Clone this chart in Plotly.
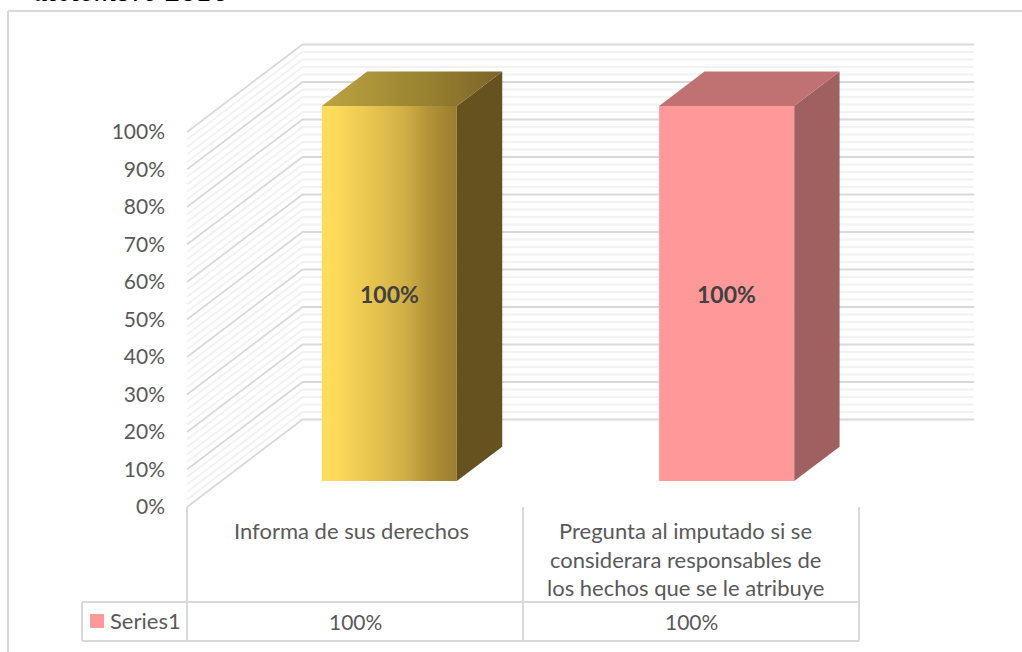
import plotly.graph_objects as go

# Values
categories = ["Informa de sus derechos",
              "Pregunta al imputado si se|considerara responsables de|los hechos que se le atribuye"]
series_name = "Series1"
values = [100, 100]
y_ticks = [0, 10, 20, 30, 40, 50, 60, 70, 80, 90, 100]
y_minor = [v for v in range(0, 101, 2) if v % 10 != 0]

W, H = 1022, 652
X0_PX, X_SCALE = 187, 336     # pixel of category 0 and pixels per category
Y0_PX, Y_SCALE = 507, 3.75    # pixel of 0% and pixels per percent
DEPTH_X = 115.5 / X_SCALE     # how far the back wall sits from the front plane
DEPTH_Y = 87.5 / Y_SCALE
WALL_RIGHT = (974 - X0_PX) / X_SCALE - DEPTH_X

BAR_CENTERS = [0.5, 1.504]
BAR_HALF = 0.201
BAR_D0, BAR_D1 = 0.297, 0.69
LABEL_CENTERS_PX = [351.5, 685]

GRID = "#d9d9d9"
GRID_MINOR = "#f2f2f2"
TEXT = "#595959"
FONT = "Lato, sans-serif"


def ux(px):
    return (px - X0_PX) / X_SCALE


def uy(px):
    return (Y0_PX - px) / Y_SCALE


def project(u, v, d):
    # oblique projection: d=0 is the front plane, d=1 the back wall
    return u + d * DEPTH_X, v + d * DEPTH_Y


def grid_xy(levels):
    xs, ys = [], []
    for v in levels:
        a = project(0, v, 0)
        b = project(0, v, 1)
        c = project(WALL_RIGHT, v, 1)
        xs += [a[0], b[0], c[0], None]
        ys += [a[1], b[1], c[1], None]
    return xs, ys


def face(points, **kw):
    return go.Scatter(x=[p[0] for p in points], y=[p[1] for p in points],
                      mode="lines", fill="toself", line=dict(width=0),
                      hoverinfo="skip", showlegend=False, **kw)


fig = go.Figure()

# walls
xs, ys = grid_xy(y_minor)
fig.add_trace(go.Scatter(x=xs, y=ys, mode="lines", line=dict(color=GRID_MINOR, width=2),
                         hoverinfo="skip", showlegend=False))
xs, ys = grid_xy(y_ticks)
fig.add_trace(go.Scatter(x=xs, y=ys, mode="lines", line=dict(color=GRID, width=1.8),
                         hoverinfo="skip", showlegend=False))

# bars
bar_styles = [
    dict(front=[[0, "#ffdd5c"], [0.12, "#fbd95a"], [0.35, "#e9c650"], [0.62, "#d0ae45"], [0.8, "#b09237"], [1, "#9a7d30"]],
         top=[[0, "#bca443"], [0.6, "#97802f"], [1, "#7a6329"]],
         side="#65521e"),
    dict(front=[[0, "#ff9999"], [1, "#ff9999"]],
         top=[[0, "#c07272"], [1, "#c07272"]],
         side="#a06060"),
]
for center, val, st in zip(BAR_CENTERS, values, bar_styles):
    l, r = center - BAR_HALF, center + BAR_HALF
    fig.add_trace(face([project(r, 0, BAR_D0), project(r, 0, BAR_D1),
                        project(r, val, BAR_D1), project(r, val, BAR_D0),
                        project(r, 0, BAR_D0)], fillcolor=st["side"]))
    fig.add_trace(face([project(l, val, BAR_D0), project(l, val, BAR_D1),
                        project(r, val, BAR_D1), project(r, val, BAR_D0),
                        project(l, val, BAR_D0)],
                       fillgradient=dict(type="horizontal", colorscale=st["top"])))
    fig.add_trace(face([project(l, 0, BAR_D0), project(r, 0, BAR_D0),
                        project(r, val, BAR_D0), project(l, val, BAR_D0),
                        project(l, 0, BAR_D0)],
                       fillgradient=dict(type="horizontal", colorscale=st["front"])))
    cx, cy = project(center, val / 2, BAR_D0)
    fig.add_annotation(x=cx, y=cy, text=f"<b>{val}%</b>", showarrow=False,
                       font=dict(family=FONT, size=23, color="#404040"))

# data table under the chart
t_left, t_top, t_bottom = ux(82), uy(602), uy(641)
tx = [t_left, 2, None, t_left, 2, None, t_left, t_left, None]
ty = [t_top, t_top, None, t_bottom, t_bottom, None, t_top, t_bottom, None]
for u in [0, 1, 2]:
    tx += [u, u, None]
    ty += [0, t_bottom, None]
fig.add_trace(go.Scatter(x=tx, y=ty, mode="lines", line=dict(color=GRID, width=2),
                         hoverinfo="skip", showlegend=False))
fig.add_trace(go.Scatter(x=[ux(97)], y=[uy(621)], mode="markers",
                         marker=dict(symbol="square", size=14, color="#ff9999"),
                         hoverinfo="skip", showlegend=False))
fig.add_annotation(x=ux(108), y=uy(620), text=series_name, showarrow=False, xanchor="left",
                   font=dict(family=FONT, size=22, color=TEXT))

for i, (cat, val) in enumerate(zip(categories, values)):
    for j, line in enumerate(cat.split("|")):
        fig.add_annotation(x=ux(LABEL_CENTERS_PX[i]), y=uy(530.5 + 28.7 * j), text=line, showarrow=False,
                           font=dict(family=FONT, size=22, color=TEXT))
    fig.add_annotation(x=i + 0.5, y=uy(621), text=f"{val}%", showarrow=False,
                       font=dict(family=FONT, size=21, color=TEXT))

# cut-off caption above the chart frame
fig.add_annotation(x=ux(31), y=uy(10.5), text="<i>diciembre 2016</i>", showarrow=False,
                   xanchor="left", yanchor="bottom",
                   font=dict(family="Liberation Serif, serif", size=31.5, color="#000000"))

# chart frame: only the top and left edges fall inside the picture
fig.add_shape(type="line", xref="paper", yref="paper", x0=8 / W, x1=1, y0=1 - 11 / H, y1=1 - 11 / H,
              line=dict(color=GRID, width=2))
fig.add_shape(type="line", xref="paper", yref="paper", x0=8 / W, x1=8 / W, y0=0, y1=1 - 11 / H,
              line=dict(color=GRID, width=2))

fig.update_layout(
    width=W, height=H,
    margin=dict(l=0, r=0, t=0, b=0),
    paper_bgcolor="white", plot_bgcolor="white",
    showlegend=False,
    xaxis=dict(range=[ux(0), ux(W)], domain=[0, 1], visible=False),
    yaxis=dict(range=[uy(H), uy(0)], domain=[0, 1], anchor="free", position=X0_PX / W,
               tickvals=y_ticks, ticktext=[f"{v}%" for v in y_ticks],
               showgrid=False, zeroline=False, showline=False, ticks="",
               ticklabelstandoff=22,
               tickfont=dict(family=FONT, size=21, color=TEXT)),
)

fig.write_html("out.html", config=dict(displayModeBar=False),
               post_script="document.body.style.margin='0';")
